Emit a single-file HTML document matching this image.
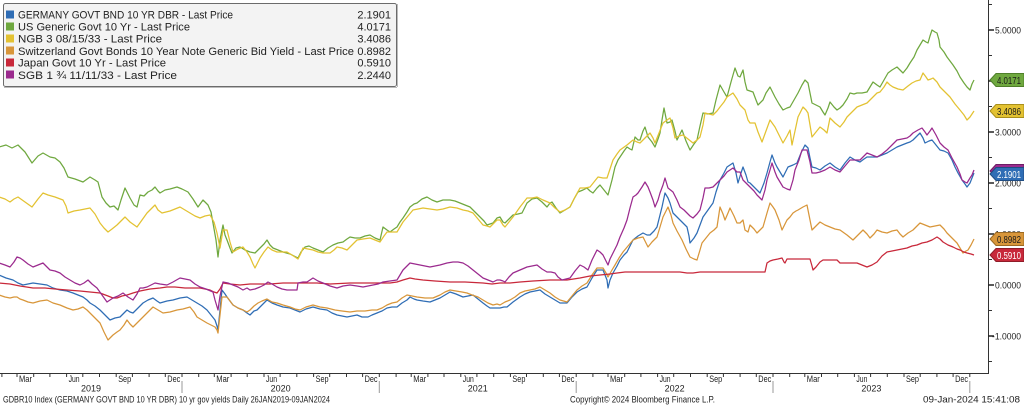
<!DOCTYPE html>
<html><head><meta charset="utf-8"><style>
html,body{margin:0;padding:0;background:#fff;overflow:hidden;}
svg{display:block;font-family:"Liberation Sans","DejaVu Sans",sans-serif;}
</style></head><body>
<svg width="1024" height="405" viewBox="0 0 1024 405" xmlns="http://www.w3.org/2000/svg">
<rect x="0" y="0" width="1024" height="405" fill="#fff"/>
<g fill="none" stroke-width="1.25" stroke-linejoin="round">
<!-- Germany (blue) -->
<polyline stroke="#2f6db5" points="-1,275 6,278 13,280 18,283 23,285 28,284 33,283 40,284 47,285 53,288 60,290 67,291 73,293 78,295 83,297 87,300 90,303 95,306 100,310 105,315 110,320 115,318 120,317 124,313 127,310 130,312 133,313 138,308 143,303 148,300 153,298 157,301 160,303 167,301 173,300 180,298 187,297 192,300 197,303 202,306 207,310 211,315 215,320 217,326 218,330 220,310 222,290 225,294 227,297 230,301 233,305 238,308 243,310 247,313 250,315 254,311 257,310 262,305 267,300 272,303 277,305 283,307 290,308 295,310 300,312 306,309 313,307 320,309 327,310 332,313 337,315 342,316 347,317 352,316 357,315 362,317 368,317 372,315 377,313 382,311 387,308 392,307 397,307 402,303 407,300 410,297 414,299 417,300 423,301 430,302 435,300 440,298 445,295 450,292 456,294 463,297 468,296 473,295 478,299 483,303 487,306 490,308 495,308 500,308 504,307 507,307 513,302 520,297 525,294 530,292 535,291 540,290 545,294 550,297 555,300 560,303 567,303 572,297 577,292 582,289 587,287 592,278 597,270 603,270 605,275 607,280 608,288 610,280 613,273 617,266 620,260 624,255 627,252 630,246 633,240 638,236 643,233 647,235 650,235 654,231 657,227 660,215 662,207 665,193 668,198 670,203 673,213 677,217 680,220 684,224 687,227 689,236 690,243 694,238 697,233 700,225 703,217 708,210 713,203 716,192 720,180 724,173 727,167 730,165 733,163 736,173 738,183 741,173 743,167 746,175 748,182 750,183 754,187 757,190 760,193 764,183 767,173 770,162 772,155 775,163 777,167 780,172 783,177 786,171 788,167 793,165 797,163 801,153 805,145 808,148 810,158 812,167 816,168 820,170 825,166 830,163 835,167 840,170 845,163 850,157 855,160 860,162 864,159 867,157 872,157 877,157 882,155 887,153 892,150 897,147 902,145 907,143 910,142 913,140 917,136 920,133 923,138 925,143 929,141 932,140 936,145 940,150 944,151 948,153 952,160 955,167 958,173 962,180 965,184 967,187 970,183 972,178 974,173"/>
<!-- US (green) -->
<polyline stroke="#6fa83f" points="-1,147 6,145 12,148 18,145 25,152 32,163 38,156 43,153 50,157 55,158 60,162 64,168 68,177 75,179 83,182 90,177 95,180 98,182 102,197 106,203 110,207 114,206 118,210 121,200 125,188 128,194 130,198 134,205 137,207 140,195 144,196 148,192 152,190 155,187 158,191 160,193 165,190 170,189 177,187 182,189 188,192 193,199 198,207 203,200 208,205 211,212 213,223 216,240 218,257 220,240 223,225 225,235 227,240 230,248 232,253 236,248 240,247 245,250 250,252 255,253 260,248 264,244 267,240 270,245 273,248 278,250 283,252 290,254 298,258 301,252 305,247 309,246 313,248 318,250 323,252 328,248 333,245 338,243 343,242 347,239 350,237 355,238 360,238 365,236 370,235 375,238 380,240 383,227 387,230 390,232 394,229 397,227 400,222 403,218 407,212 410,207 414,204 417,203 422,199 427,197 432,200 437,202 443,200 450,200 455,201 460,203 465,205 470,207 475,212 480,217 484,221 487,225 490,224 493,223 497,218 500,217 503,222 505,223 509,219 513,215 518,214 522,213 525,207 527,203 532,199 537,198 542,202 547,207 550,203 552,202 556,208 560,213 565,210 570,207 574,199 578,192 583,190 587,188 590,191 593,193 597,188 600,185 604,190 608,195 612,180 615,167 618,160 620,157 624,151 627,147 630,149 632,150 635,137 638,140 640,140 643,131 645,127 648,137 652,142 655,147 658,139 660,133 662,120 664,108 667,123 670,122 672,120 675,131 677,140 680,134 682,130 686,141 690,150 694,144 697,140 700,126 703,113 708,114 713,113 716,100 720,85 724,92 727,97 731,82 735,68 738,76 740,77 743,70 745,82 747,90 750,91 753,92 756,100 758,105 763,100 766,93 770,87 773,93 775,97 779,104 783,110 787,108 790,107 794,100 798,93 802,85 805,80 808,83 810,93 812,103 816,105 820,107 823,112 825,115 828,108 830,102 834,107 837,110 840,108 843,105 847,99 850,93 854,94 857,93 862,93 867,92 870,87 873,82 877,85 880,87 884,80 888,73 892,70 897,67 900,70 903,73 907,68 910,63 914,57 917,50 920,45 923,40 926,42 928,43 930,36 932,30 935,32 937,33 939,40 940,47 944,52 947,57 950,61 953,65 957,71 960,77 964,83 967,87 970,90 972,84 974,80"/>
<!-- NGB (yellow) -->
<polyline stroke="#e3c232" points="-1,197 5,199 10,202 14,199 18,197 25,202 32,207 38,199 43,193 48,195 55,197 63,200 66,206 68,213 74,211 80,210 85,209 90,208 95,214 100,223 104,228 108,232 112,229 117,225 121,221 125,217 130,222 137,227 142,220 147,213 151,209 155,205 158,210 162,213 170,211 180,207 185,210 190,213 195,216 200,218 205,216 210,215 214,222 217,233 220,248 223,230 227,230 230,242 233,252 238,249 243,247 247,252 250,257 253,264 255,268 258,262 260,258 264,252 268,247 272,250 277,252 282,252 287,252 292,255 298,259 301,253 303,248 308,249 313,250 318,252 323,253 330,253 334,250 337,247 342,248 347,250 352,245 357,240 363,239 370,238 375,240 380,242 384,236 387,232 392,232 397,232 400,227 403,222 408,216 413,210 418,209 423,208 430,209 437,210 443,209 450,207 457,208 463,210 468,211 473,213 478,219 483,225 487,226 490,227 494,223 497,220 500,220 503,225 505,227 509,222 513,217 520,207 527,198 532,198 537,197 543,200 550,203 555,208 560,212 565,210 570,207 575,197 580,188 585,188 590,187 594,182 598,177 603,178 607,178 610,169 613,160 617,154 620,150 627,145 633,140 637,142 640,143 645,138 650,133 653,138 655,143 659,133 663,123 667,120 670,118 673,128 675,138 679,136 683,135 688,139 693,143 697,140 700,137 703,125 705,113 709,114 713,115 717,111 720,107 724,102 727,97 730,95 733,93 737,99 740,105 745,110 748,120 750,123 755,123 758,132 762,142 766,131 770,120 775,127 779,135 783,143 787,136 790,130 792,145 795,131 798,117 803,107 806,110 808,113 810,125 812,137 816,132 820,127 824,130 827,133 830,118 835,123 840,127 844,122 847,117 852,112 857,107 862,105 867,103 872,98 877,93 880,92 884,87 887,82 890,85 893,87 898,89 903,90 908,86 912,83 916,81 920,80 923,73 926,77 928,80 931,79 933,78 937,82 940,87 945,92 950,97 955,104 960,110 964,115 967,120 970,117 972,114 974,111"/>
<!-- Swiss (orange) -->
<polyline stroke="#d8963a" points="-1,295 5,297 10,298 14,297 17,297 20,299 23,300 28,302 33,303 40,301 47,300 53,303 60,305 67,308 73,310 78,309 83,307 87,310 90,313 95,318 100,323 104,332 108,340 111,337 113,335 117,332 120,330 124,325 127,320 130,324 133,327 138,322 143,317 148,312 153,307 158,310 163,313 170,312 177,310 183,309 190,307 194,312 197,317 202,320 207,323 211,325 215,327 217,330 218,333 220,315 222,297 227,297 230,301 233,305 238,308 243,310 247,312 250,310 254,306 258,303 262,301 267,299 272,302 277,303 283,305 290,307 295,309 300,310 306,307 313,305 320,307 327,308 335,310 342,311 350,312 357,311 365,311 372,310 377,310 382,308 387,305 392,303 397,302 402,298 407,295 412,296 417,297 425,298 433,298 440,295 445,292 450,290 456,291 462,292 467,293 472,295 478,297 483,300 488,303 493,305 497,304 500,305 505,302 510,300 515,297 520,293 525,291 530,290 535,289 540,287 545,290 550,293 555,297 560,300 567,302 572,296 577,290 582,286 587,283 592,275 597,268 603,268 606,273 608,277 612,270 615,265 619,258 623,252 628,246 633,240 638,238 643,237 646,243 648,247 652,242 657,237 660,227 663,217 666,211 668,207 671,215 673,223 677,231 682,240 686,249 690,257 694,259 697,260 700,250 702,243 706,238 710,233 714,230 717,227 720,207 723,214 725,220 728,213 730,208 734,216 737,223 740,223 743,220 745,230 748,232 750,225 754,229 757,233 760,230 763,227 767,213 770,203 773,207 775,210 779,220 782,230 785,224 787,220 790,217 793,213 796,211 798,210 803,207 807,205 809,215 812,230 816,226 820,222 825,225 830,227 835,229 840,230 847,235 853,240 858,235 863,230 867,234 870,238 874,234 877,230 882,232 887,233 892,231 897,230 900,234 903,237 908,233 913,230 917,226 920,223 925,225 930,227 935,226 940,225 944,229 947,233 952,238 957,243 960,248 963,253 966,251 968,250 971,245 974,239"/>
<!-- Japan (red) -->
<polyline stroke="#c8283a" points="-1,283 10,284 20,286 33,288 45,288 55,289 67,290 80,291 90,292 100,293 108,296 113,298 117,298 122,296 127,295 133,293 140,291 150,289 160,288 167,287 175,287 185,288 195,288 200,288 210,290 214,292 217,293 220,289 223,283 230,284 240,285 250,284 260,284 270,284 283,283 300,283 317,283 330,284 350,283 365,283 383,283 390,283 397,282 403,280 410,278 415,279 423,280 435,281 450,282 465,282 483,283 492,284 500,283 510,283 520,282 533,281 550,280 567,280 580,278 590,276 600,275 610,274 617,273 625,272 633,272 650,272 667,272 680,272 687,273 693,273 700,272 720,272 740,272 755,272 765,272 767,263 770,261 773,260 778,259 782,258 784,262 785,263 787,259 800,259 810,259 812,266 813,270 816,267 820,262 823,260 830,260 837,260 840,263 850,263 857,263 862,265 867,267 872,265 877,262 882,256 887,252 892,251 897,250 902,249 907,248 912,246 917,245 922,243 927,242 932,240 937,237 940,239 943,242 948,245 953,247 957,249 960,250 964,252 967,253 971,254 974,255"/>
<!-- SGB (purple) -->
<polyline stroke="#9b2a8e" points="-1,263 5,265 10,267 14,262 17,257 20,258 23,260 28,264 33,267 38,265 43,263 47,267 50,270 55,271 60,273 65,277 70,280 75,283 80,285 84,283 88,280 92,284 97,288 102,295 107,302 110,300 113,298 118,296 123,293 128,297 133,300 137,294 140,288 143,288 147,287 151,285 155,283 160,284 167,285 173,282 180,278 185,279 190,280 195,284 200,287 206,289 213,292 215,300 218,310 220,296 223,282 228,283 233,285 238,287 243,290 247,288 250,290 255,289 260,287 264,285 268,282 272,284 277,287 282,289 287,290 292,290 297,290 298,283 303,282 307,282 310,280 313,278 318,281 323,283 330,286 337,288 343,286 350,285 357,286 363,287 368,286 373,285 378,284 383,282 390,281 397,280 400,275 403,270 407,266 410,263 415,264 420,265 425,266 430,267 435,266 440,265 447,263 453,262 458,262 463,263 468,266 473,270 478,274 483,278 488,280 493,282 497,280 500,280 503,281 505,282 509,277 513,273 520,270 527,267 532,266 537,265 542,269 547,272 551,272 555,273 558,277 562,280 566,279 570,278 575,271 580,265 584,267 588,270 592,260 597,250 600,252 603,255 606,261 608,265 610,259 613,253 617,245 620,237 624,228 627,220 630,208 633,197 636,195 638,193 642,187 645,182 648,187 650,192 653,200 655,207 658,200 660,193 663,185 665,178 668,188 673,192 677,200 680,207 684,210 687,213 690,216 693,218 697,214 700,210 703,198 705,188 709,188 713,187 717,183 720,180 724,176 727,172 730,170 733,168 737,172 740,172 743,180 747,184 750,187 754,191 757,195 760,198 762,200 765,190 767,180 770,170 772,163 775,172 777,177 780,182 783,187 787,189 790,190 793,180 795,170 799,160 802,150 807,150 810,162 812,173 816,173 820,172 825,170 830,167 835,170 840,172 845,166 850,160 855,160 860,160 864,156 867,153 872,155 877,157 882,154 887,150 892,145 897,140 902,139 907,138 910,136 913,133 918,130 922,128 925,132 927,135 930,131 932,128 936,135 940,143 944,147 948,150 952,158 957,167 960,174 962,180 965,182 967,183 970,178 972,175 974,170"/>
</g>

<!-- Axes -->
<line x1="988.5" y1="0" x2="988.5" y2="373.5" stroke="#333" stroke-width="1"/>
<line x1="0" y1="373.5" x2="989" y2="373.5" stroke="#333" stroke-width="1"/>

<!-- right axis ticks -->
<g stroke="#222" stroke-width="1.5">
<line x1="988" y1="30" x2="994" y2="30"/>
<line x1="988" y1="81" x2="994" y2="81"/>
<line x1="988" y1="132" x2="994" y2="132"/>
<line x1="988" y1="183" x2="994" y2="183"/>
<line x1="988" y1="234" x2="994" y2="234"/>
<line x1="988" y1="285" x2="994" y2="285"/>
<line x1="988" y1="336" x2="994" y2="336"/>
</g>
<g stroke="#333" stroke-width="1">
<line x1="988" y1="4.5" x2="992" y2="4.5"/>
<line x1="988" y1="55.5" x2="992" y2="55.5"/>
<line x1="988" y1="106.5" x2="992" y2="106.5"/>
<line x1="988" y1="157.5" x2="992" y2="157.5"/>
<line x1="988" y1="208.5" x2="992" y2="208.5"/>
<line x1="988" y1="259.5" x2="992" y2="259.5"/>
<line x1="988" y1="310.5" x2="992" y2="310.5"/>
<line x1="988" y1="361.5" x2="992" y2="361.5"/>
</g>
<g font-size="9.5" fill="#222">
<text x="995" y="33.5" textLength="26" lengthAdjust="spacingAndGlyphs">5.0000</text>
<text x="995" y="84.5" textLength="26" lengthAdjust="spacingAndGlyphs">4.0000</text>
<text x="995" y="135.5" textLength="26" lengthAdjust="spacingAndGlyphs">3.0000</text>
<text x="995" y="186.5" textLength="26" lengthAdjust="spacingAndGlyphs">2.0000</text>
<text x="995" y="237.5" textLength="26" lengthAdjust="spacingAndGlyphs">1.0000</text>
<text x="995" y="288.5" textLength="26" lengthAdjust="spacingAndGlyphs">0.0000</text>
<text x="992" y="339.5" textLength="29" lengthAdjust="spacingAndGlyphs">-1.0000</text>
</g>

<!-- value tags -->
<g font-size="10">
<polygon points="990,80 996,73.5 1024,73.5 1024,86.5 996,86.5" fill="#6fa83f" stroke="#4f7f2a" stroke-width="1"/>
<text x="997" y="84" fill="#1a1a1a" textLength="24" lengthAdjust="spacingAndGlyphs">4.0171</text>
<polygon points="990,111 996,104.5 1024,104.5 1024,117.5 996,117.5" fill="#e3c232" stroke="#a98f1c" stroke-width="1"/>
<text x="997" y="115" fill="#1a1a1a" textLength="24" lengthAdjust="spacingAndGlyphs">3.4086</text>
<polygon points="990,171 996,164.5 1024,164.5 1024,177.5 996,177.5" fill="#9b2a8e" stroke="#6e1d65" stroke-width="1"/>
<polygon points="990,174 996,167.5 1024,167.5 1024,180.5 996,180.5" fill="#2f6db5" stroke="#1f4c82" stroke-width="1"/>
<text x="997" y="178" fill="#fff" textLength="24" lengthAdjust="spacingAndGlyphs">2.1901</text>
<polygon points="990,239 996,232.5 1024,232.5 1024,245.5 996,245.5" fill="#d8963a" stroke="#9c6a22" stroke-width="1"/>
<text x="997" y="243" fill="#1a1a1a" textLength="24" lengthAdjust="spacingAndGlyphs">0.8982</text>
<polygon points="990,255 996,248.5 1024,248.5 1024,261.5 996,261.5" fill="#c8283a" stroke="#8f1c28" stroke-width="1"/>
<text x="997" y="259" fill="#fff" textLength="24" lengthAdjust="spacingAndGlyphs">0.5910</text>
</g>

<!-- x-axis month ticks -->
<g stroke="#333" stroke-width="1">
<line x1="1.9" y1="373" x2="1.9" y2="377"/><line x1="17" y1="373" x2="17" y2="377"/><line x1="33.7" y1="373" x2="33.7" y2="377"/><line x1="49.9" y1="373" x2="49.9" y2="377"/><line x1="66.6" y1="373" x2="66.6" y2="377"/><line x1="82.8" y1="373" x2="82.8" y2="377"/><line x1="99.5" y1="373" x2="99.5" y2="377"/><line x1="116.2" y1="373" x2="116.2" y2="377"/><line x1="132.4" y1="373" x2="132.4" y2="377"/><line x1="149.1" y1="373" x2="149.1" y2="377"/><line x1="165.3" y1="373" x2="165.3" y2="377"/><line x1="182" y1="373" x2="182" y2="377"/><line x1="198.7" y1="373" x2="198.7" y2="377"/><line x1="214.3" y1="373" x2="214.3" y2="377"/><line x1="231.1" y1="373" x2="231.1" y2="377"/><line x1="247.2" y1="373" x2="247.2" y2="377"/><line x1="264" y1="373" x2="264" y2="377"/><line x1="280.1" y1="373" x2="280.1" y2="377"/><line x1="296.8" y1="373" x2="296.8" y2="377"/><line x1="313.6" y1="373" x2="313.6" y2="377"/><line x1="329.7" y1="373" x2="329.7" y2="377"/><line x1="346.5" y1="373" x2="346.5" y2="377"/><line x1="362.6" y1="373" x2="362.6" y2="377"/><line x1="379.3" y1="373" x2="379.3" y2="377"/><line x1="396.1" y1="373" x2="396.1" y2="377"/><line x1="411.2" y1="373" x2="411.2" y2="377"/><line x1="427.9" y1="373" x2="427.9" y2="377"/><line x1="444" y1="373" x2="444" y2="377"/><line x1="460.8" y1="373" x2="460.8" y2="377"/><line x1="476.9" y1="373" x2="476.9" y2="377"/><line x1="493.7" y1="373" x2="493.7" y2="377"/><line x1="510.4" y1="373" x2="510.4" y2="377"/><line x1="526.5" y1="373" x2="526.5" y2="377"/><line x1="543.3" y1="373" x2="543.3" y2="377"/><line x1="559.4" y1="373" x2="559.4" y2="377"/><line x1="576.2" y1="373" x2="576.2" y2="377"/><line x1="592.9" y1="373" x2="592.9" y2="377"/><line x1="608" y1="373" x2="608" y2="377"/><line x1="624.7" y1="373" x2="624.7" y2="377"/><line x1="640.9" y1="373" x2="640.9" y2="377"/><line x1="657.6" y1="373" x2="657.6" y2="377"/><line x1="673.7" y1="373" x2="673.7" y2="377"/><line x1="690.5" y1="373" x2="690.5" y2="377"/><line x1="707.2" y1="373" x2="707.2" y2="377"/><line x1="723.4" y1="373" x2="723.4" y2="377"/><line x1="740.1" y1="373" x2="740.1" y2="377"/><line x1="756.3" y1="373" x2="756.3" y2="377"/><line x1="773" y1="373" x2="773" y2="377"/><line x1="789.7" y1="373" x2="789.7" y2="377"/><line x1="804.8" y1="373" x2="804.8" y2="377"/><line x1="821.5" y1="373" x2="821.5" y2="377"/><line x1="837.7" y1="373" x2="837.7" y2="377"/><line x1="854.4" y1="373" x2="854.4" y2="377"/><line x1="870.6" y1="373" x2="870.6" y2="377"/><line x1="887.3" y1="373" x2="887.3" y2="377"/><line x1="904" y1="373" x2="904" y2="377"/><line x1="920.2" y1="373" x2="920.2" y2="377"/><line x1="936.9" y1="373" x2="936.9" y2="377"/><line x1="953.1" y1="373" x2="953.1" y2="377"/><line x1="969.8" y1="373" x2="969.8" y2="377"/>
</g>
<!-- year separators -->
<g stroke="#999" stroke-width="1">
<line x1="182" y1="381" x2="182" y2="393"/>
<line x1="379.3" y1="381" x2="379.3" y2="393"/>
<line x1="576.2" y1="381" x2="576.2" y2="393"/>
<line x1="773" y1="381" x2="773" y2="393"/>
<line x1="969.8" y1="381" x2="969.8" y2="393"/>
</g>
<g font-size="9" fill="#222">
<text x="19" y="382" textLength="13" lengthAdjust="spacingAndGlyphs">Mar</text>
<text x="68.6" y="382" textLength="11" lengthAdjust="spacingAndGlyphs">Jun</text>
<text x="118.2" y="382" textLength="13" lengthAdjust="spacingAndGlyphs">Sep</text>
<text x="167.3" y="382" textLength="13" lengthAdjust="spacingAndGlyphs">Dec</text>
<text x="216.3" y="382" textLength="13" lengthAdjust="spacingAndGlyphs">Mar</text>
<text x="266" y="382" textLength="11" lengthAdjust="spacingAndGlyphs">Jun</text>
<text x="315.6" y="382" textLength="13" lengthAdjust="spacingAndGlyphs">Sep</text>
<text x="364.6" y="382" textLength="13" lengthAdjust="spacingAndGlyphs">Dec</text>
<text x="413.2" y="382" textLength="13" lengthAdjust="spacingAndGlyphs">Mar</text>
<text x="462.8" y="382" textLength="11" lengthAdjust="spacingAndGlyphs">Jun</text>
<text x="512.4" y="382" textLength="13" lengthAdjust="spacingAndGlyphs">Sep</text>
<text x="561.4" y="382" textLength="13" lengthAdjust="spacingAndGlyphs">Dec</text>
<text x="610" y="382" textLength="13" lengthAdjust="spacingAndGlyphs">Mar</text>
<text x="659.6" y="382" textLength="11" lengthAdjust="spacingAndGlyphs">Jun</text>
<text x="709.2" y="382" textLength="13" lengthAdjust="spacingAndGlyphs">Sep</text>
<text x="758.3" y="382" textLength="13" lengthAdjust="spacingAndGlyphs">Dec</text>
<text x="806.8" y="382" textLength="13" lengthAdjust="spacingAndGlyphs">Mar</text>
<text x="856.4" y="382" textLength="11" lengthAdjust="spacingAndGlyphs">Jun</text>
<text x="906" y="382" textLength="13" lengthAdjust="spacingAndGlyphs">Sep</text>
<text x="955.1" y="382" textLength="13" lengthAdjust="spacingAndGlyphs">Dec</text>
</g>
<g font-size="9" fill="#222" text-anchor="middle">
<text x="91" y="391.5">2019</text>
<text x="280.6" y="391.5">2020</text>
<text x="477.8" y="391.5">2021</text>
<text x="674.6" y="391.5">2022</text>
<text x="871.4" y="391.5">2023</text>
</g>
<g font-size="9" fill="#222">
<text x="3" y="402.5" textLength="327" lengthAdjust="spacingAndGlyphs">GDBR10 Index (GERMANY GOVT BND 10 YR DBR) 10 yr gov yields  Daily 26JAN2019-09JAN2024</text>
<text x="570" y="402.5" textLength="145" lengthAdjust="spacingAndGlyphs">Copyright© 2024 Bloomberg Finance L.P.</text>
<text x="923" y="402.5" textLength="97" lengthAdjust="spacingAndGlyphs">09-Jan-2024 15:41:08</text>
</g>

<!-- Legend -->
<rect x="3.5" y="3.5" width="393" height="83" rx="2" fill="#f3f3f3" stroke="#6b6b6b" stroke-width="1"/>
<line x1="4" y1="87.5" x2="397" y2="87.5" stroke="#bbb" stroke-width="1"/>
<line x1="397.5" y1="4" x2="397.5" y2="87" stroke="#bbb" stroke-width="1"/>
<g>
<rect x="6" y="10.5" width="8" height="8" fill="#2f6db5"/>
<rect x="6" y="22.5" width="8" height="8" fill="#6fa83f"/>
<rect x="6" y="34.5" width="8" height="8" fill="#e3c232"/>
<rect x="6" y="46.5" width="8" height="8" fill="#d8963a"/>
<rect x="6" y="58.5" width="8" height="8" fill="#c8283a"/>
<rect x="6" y="70.5" width="8" height="8" fill="#9b2a8e"/>
</g>
<g font-size="11" fill="#222">
<text x="18" y="18.7" textLength="215" lengthAdjust="spacingAndGlyphs">GERMANY GOVT BND 10 YR DBR - Last Price</text>
<text x="18" y="30.5" textLength="172" lengthAdjust="spacingAndGlyphs">US Generic Govt 10 Yr - Last Price</text>
<text x="18" y="42.5" textLength="144" lengthAdjust="spacingAndGlyphs">NGB 3 08/15/33 - Last Price</text>
<text x="18" y="54.8" textLength="336" lengthAdjust="spacingAndGlyphs">Switzerland Govt Bonds 10 Year Note Generic Bid Yield - Last Price</text>
<text x="18" y="66.7" textLength="148" lengthAdjust="spacingAndGlyphs">Japan Govt 10 Yr - Last Price</text>
<text x="18" y="78.8" textLength="159" lengthAdjust="spacingAndGlyphs">SGB 1 ¾ 11/11/33 - Last Price</text>
</g>
<g font-size="11" fill="#222" text-anchor="end">
<text x="391" y="18.7">2.1901</text>
<text x="391" y="30.5">4.0171</text>
<text x="391" y="42.5">3.4086</text>
<text x="391" y="54.8">0.8982</text>
<text x="391" y="66.7">0.5910</text>
<text x="391" y="78.8">2.2440</text>
</g>
</svg>
</body></html>
